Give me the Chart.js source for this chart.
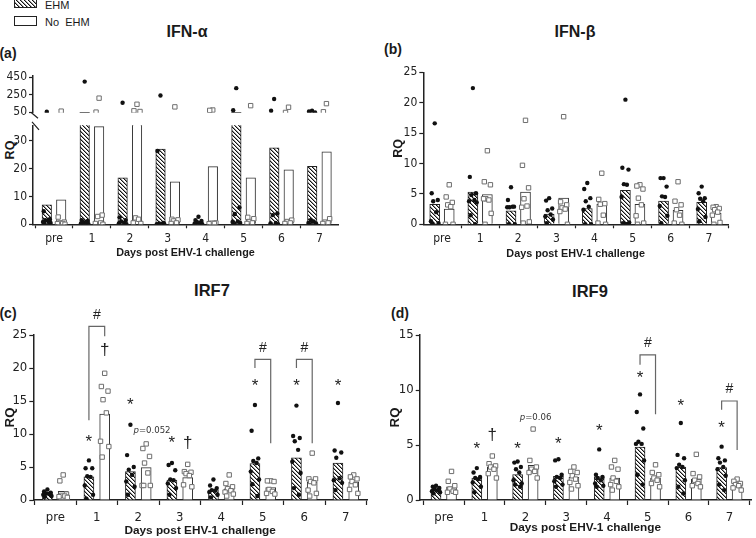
<!DOCTYPE html>
<html>
<head>
<meta charset="utf-8">
<script src="https://cdn.jsdelivr.net/npm/chart.js@4.4.1/dist/chart.umd.min.js"></script>
<style>
  html, body { margin: 0; padding: 0; background: #fff; overflow: hidden; }
  body { width: 756px; height: 538px; position: relative; font-family: 'Liberation Sans', Arial, sans-serif; color: #1a1a1a; }
  canvas { position: absolute; }
  .t { position: absolute; font-weight: bold; transform: translate(-50%, -50%); white-space: nowrap; }
  .leg { position: absolute; font-size: 11px; transform: translateY(-50%); white-space: nowrap; }
</style>
</head>
<body>
<canvas id="legEhm" width="23" height="10" style="left:14px;top:-2px"></canvas>
<div class="leg" style="left:45px;top:5px">EHM</div>
<canvas id="legNo" width="23" height="10" style="left:14px;top:16px"></canvas>
<div class="leg" style="left:45px;top:22px">No&nbsp; EHM</div>

<div class="t" style="left:187px;top:32px;font-size:16px">IFN-α</div>
<div class="t" style="left:575px;top:32px;font-size:16px">IFN-β</div>
<div class="t" style="left:212px;top:290px;font-size:16.5px">IRF7</div>
<div class="t" style="left:590px;top:291px;font-size:16.5px">IRF9</div>
<div class="t" style="left:8px;top:53px;font-size:14px">(a)</div>
<div class="t" style="left:393px;top:49px;font-size:14px">(b)</div>
<div class="t" style="left:8px;top:313px;font-size:14px">(c)</div>
<div class="t" style="left:400px;top:313px;font-size:14px">(d)</div>
<div class="t" style="left:10px;top:150px;font-size:12.5px;transform:translate(-50%,-50%) rotate(-90deg)">RQ</div>

<canvas id="aTop"></canvas>
<canvas id="aLow"></canvas>
<canvas id="bChart"></canvas>
<canvas id="cChart"></canvas>
<canvas id="dChart"></canvas>

<script>
const days = ['pre', '1', '2', '3', '4', '5', '6', '7'];

// IFN-alpha (broken axis)
const ifnaEhm = [7.0, 45, 16.7, 27.0, 0.6, 45, 27.4, 20.8];
const ifnaNo = [8.8, 35, 40, 15.2, 20.7, 16.7, 19.5, 26.0];
const ifnaEhmPts = [
  [54, 4.7, 1.8, 1.5, 1.2, 0.8, 0.5, 0.3, 0],
  [400, 1.5, 1.2, 0.8, 0.5, 0.3, 0, 0],
  [158, 2.5, 1.5, 1.0, 0.5, 0.3, 0],
  [240, 26.3, 0.5, 0.3, 0.2, 0, 0],
  [2.7, 1.5, 1.2, 0.8, 0.5, 0.3, 0],
  [325, 72, 6.0, 3.7, 1.0, 0.8, 0.5, 0],
  [200, 65, 3.9, 3.3, 0.5, 0.3, 0],
  [65, 57, 46, 1.5, 1.0, 0.5, 0.3, 0]
];
const ifnaNoPts = [
  [61, 2.6, 0.8, 0.5, 0.3, 0.2, 0],
  [210, 50, 3.3, 2.8, 0.5, 0.3, 0],
  [140, 65, 57, 2.3, 1.8, 0.5, 0.3],
  [110, 1.8, 1.6, 1.2, 0.5, 0.3],
  [74, 70, 0.5, 0.4, 0.3, 0.2],
  [124, 2.5, 2.0, 1.0, 0.5, 0.3],
  [106, 46, 1.5, 1.0, 0.5, 0.3],
  [147, 54, 2.0, 0.8, 0.5, 0.3]
];
const ifnaLowTicks = [0, 10, 20, 30];
const ifnaHighTicks = [50, 250, 450];

// IFN-beta
const ifnbEhm = [3.3, 5.3, 2.2, 1.7, 2.6, 5.6, 3.8, 3.6];
const ifnbNo = [2.5, 4.9, 5.3, 4.3, 3.3, 3.3, 2.3, 1.8];
const ifnbEhmPts = [
  [16.6, 5.1, 4.0, 3.8, 2.0, 0.5, 0.2, 0],
  [22.4, 7.8, 5.1, 4.8, 4.0, 3.8, 3.6, 1.5, 0],
  [6.1, 4.0, 2.9, 2.8, 2.9, 2.8, 0, 0],
  [4.3, 3.9, 2.6, 2.3, 1.6, 1.3, 0.8, 0.2],
  [6.8, 5.8, 4.3, 3.8, 2.9, 2.4, 0, 0],
  [20.5, 9.3, 9.0, 6.6, 6.5, 4.5, 0.3, 0.2, 0, 0],
  [7.6, 7.6, 6.2, 4.6, 4.5, 3.0, 1.4, 0.2],
  [6.2, 5.1, 4.3, 4.2, 3.8, 2.5, 1.2, 0.5]
];
const ifnbNoPts = [
  [6.5, 4.5, 3.6, 3.2, 2.9, 0, 0],
  [12.1, 7.0, 6.5, 4.2, 4.0, 4.2, 1.8, 0],
  [17.1, 9.7, 6.0, 4.2, 3.0, 2.8, 0.4, 0.2],
  [17.7, 3.7, 3.2, 2.7, 2.5, 2.1, 0],
  [8.4, 4.1, 3.4, 3.3, 1.5, 0.2, 0],
  [6.5, 6.3, 5.8, 4.3, 3.2, 1.4, 0.2, 0],
  [7.0, 3.8, 3.2, 2.4, 1.5, 0.2, 0],
  [2.9, 2.8, 2.6, 2.4, 2.0, 1.5, 0.3, 0]
];
const ifnbTicks = [0, 5, 10, 15, 20, 25];

// IRF7
const irf7Ehm = [1.15, 3.5, 4.3, 3.0, 1.55, 5.5, 6.4, 5.6];
const irf7No = [1.3, 13.0, 4.9, 3.4, 1.7, 1.9, 2.7, 2.7];
const irf7EhmPts = [
  [1.6, 1.3, 1.1, 1.0, 0.9, 0.8, 0.6, 0.5],
  [6.0, 4.8, 4.8, 3.6, 3.5, 2.2, 0.8, 0.2],
  [11.4, 6.8, 5.0, 4.6, 3.8, 2.8, 2.0, 0.8],
  [5.6, 5.3, 4.5, 3.1, 3.0, 2.5, 1.8, 0.8],
  [3.1, 2.2, 1.8, 1.5, 1.4, 1.2, 0.8, 0.4],
  [14.4, 10.5, 6.3, 5.9, 5.6, 4.3, 3.1, 2.4, 0.6],
  [14.3, 9.7, 9.4, 8.9, 7.6, 5.8, 4.1, 1.8, 0.8],
  [14.7, 7.5, 7.2, 6.4, 3.3, 3.0, 2.6, 1.5]
];
const irf7NoPts = [
  [3.8, 2.9, 0.9, 0.7, 0.6, 0.5, 0.4],
  [19.2, 17.2, 16.5, 15.2, 13.2, 8.9, 8.1, 6.5],
  [8.5, 7.8, 6.6, 5.6, 4.1, 2.2, 2.2, 2.2],
  [5.4, 4.3, 4.2, 4.0, 3.7, 2.3, 2.0],
  [3.8, 2.5, 2.0, 1.7, 1.4, 1.2, 0.9, 0.6],
  [2.9, 2.9, 2.8, 1.6, 1.3, 1.0, 0.9],
  [7.1, 3.2, 3.2, 2.8, 2.6, 1.5, 1.0, 0.6],
  [3.8, 3.5, 3.2, 2.8, 2.3, 1.6, 1.0]
];
const irf7Ticks = [0, 5, 10, 15, 20, 25];
const irf7Stars = [null, 9.3, 15.0, 9.2, null, 17.8, 17.8, 17.8];
const irf7Daggers = [null, 22.7, null, 8.6, null, null, null, null];
const irf7BrDays = [1, 5, 6];
const irf7BrTop = [26.3, 21.3, 21.3];
const irf7BrLeft = [12.1, 20.0, 20.0];
const irf7BrRight = [24.8, 8.6, 8.6];
const irf7Hash = [28.0, 23.0, 23.0];

// IRF9
const irf9Ehm = [0.97, 2.0, 2.3, 2.15, 2.1, 4.8, 3.0, 2.95];
const irf9No = [1.2, 3.0, 3.15, 2.05, 2.0, 2.0, 1.9, 1.35];
const irf9EhmPts = [
  [1.3, 1.2, 1.1, 1.0, 0.9, 0.8, 0.7, 0.6],
  [2.9, 2.5, 2.1, 2.0, 1.9, 1.6, 1.2, 0.7],
  [3.5, 3.4, 3.0, 2.8, 2.5, 1.8, 1.5, 1.4, 1.2],
  [3.7, 3.6, 2.3, 2.1, 2.0, 1.7, 1.4, 1.2],
  [4.6, 2.3, 2.1, 2.0, 1.8, 1.5, 1.3, 1.2],
  [9.6, 8.0, 6.5, 5.3, 5.1, 5.1, 3.6, 2.3, 1.4],
  [7.0, 4.1, 3.8, 3.2, 3.0, 2.9, 1.8, 1.2, 0.6],
  [4.85, 3.8, 3.6, 3.4, 3.0, 2.8, 2.2, 1.4, 0.9]
];
const irf9NoPts = [
  [2.6, 1.7, 1.3, 1.0, 0.8, 0.7, 0.7],
  [4.0, 3.3, 3.1, 3.0, 2.8, 2.4, 2.0],
  [6.45, 3.6, 3.0, 2.8, 2.6, 2.5, 2.0],
  [3.0, 2.6, 2.5, 2.2, 1.9, 1.6, 1.3, 1.0],
  [3.6, 3.0, 2.8, 2.0, 1.7, 1.4, 1.2, 0.9],
  [3.2, 2.5, 2.3, 2.0, 1.8, 1.5, 1.2],
  [4.15, 2.4, 2.1, 1.8, 1.5, 1.3, 1.2],
  [1.9, 1.7, 1.5, 1.4, 1.3, 1.1, 0.9]
];
const irf9Ticks = [0, 5, 10, 15];
const irf9Stars = [null, 5.0, 5.0, 5.45, 6.65, 11.45, 8.9, 6.9];
const irf9Daggers = [null, 5.85, null, null, null, null, null, null];
const irf9BrDays = [5, 7];
const irf9BrTop = [13.2, 9.0];
const irf9BrLeft = [12.3, 8.2];
const irf9BrRight = [7.8, 4.55];
const irf9Hash = [14.3, 10.05];

const OFF = 0.19;                       // half distance between the two bars of a day
const JIT = [0, -0.08, 0.08, -0.04, 0.04, -0.1, 0.1, -0.06, 0.06, 0.02];
const NARROW = "'Liberation Sans Narrow', 'DejaVu Sans Condensed', Arial, sans-serif";
const SANS = "'Liberation Sans', Arial, sans-serif";

// hatch tile for the EHM bars
const tile = document.createElement('canvas');
tile.width = tile.height = 4;
(function () {
  const t = tile.getContext('2d');
  t.fillStyle = '#fff'; t.fillRect(0, 0, 4, 4);
  for (let i = 0; i < 4; i++) {
    t.fillStyle = '#111'; t.fillRect(i, i, 1, 1);
    t.fillStyle = '#999'; t.fillRect((i + 1) % 4, i, 1, 1);
  }
})();

function legendBox(id, hatched) {
  const ctx = document.getElementById(id).getContext('2d');
  ctx.fillStyle = hatched ? ctx.createPattern(tile, 'repeat') : '#fff';
  ctx.fillRect(0.5, 0.5, 22, 9);
  ctx.strokeStyle = '#222'; ctx.lineWidth = 1;
  ctx.strokeRect(0.5, 0.5, 22, 9);
}
legendBox('legEhm', true);
legendBox('legNo', false);

function bars(vals, side) {
  return vals.map((v, i) => ({ x: i + side, y: v }));
}
function pts(groups, side, keep) {
  const out = [];
  groups.forEach((vals, i) => {
    vals.forEach((v, j) => { if (keep(v)) out.push({ x: i + side + JIT[j % JIT.length], y: v }); });
  });
  return out;
}

function marks(m) {
  return {
    id: 'marks',
    afterDatasetsDraw(chart) {
      const ctx = chart.ctx, xs = chart.scales.x, ys = chart.scales.y;
      const px = v => xs.getPixelForValue(v), py = v => ys.getPixelForValue(v);
      ctx.save();
      ctx.fillStyle = '#222'; ctx.strokeStyle = '#666'; ctx.lineWidth = 1.2;
      ctx.textAlign = 'center'; ctx.textBaseline = 'middle';
      ctx.font = '17px ' + SANS;
      m.stars.forEach((v, i) => { if (v != null) ctx.fillText('*', px(i - OFF), py(v) + 4); });
      m.daggers.forEach((v, i) => { if (v != null) ctx.fillText('†', px(i + OFF), py(v)); });
      ctx.font = '14px ' + SANS;
      m.brDays.forEach((d, k) => {
        const x1 = px(d - OFF), x2 = px(d + OFF), yt = py(m.brTop[k]);
        ctx.beginPath();
        ctx.moveTo(x1, py(m.brLeft[k])); ctx.lineTo(x1, yt);
        ctx.lineTo(x2, yt); ctx.lineTo(x2, py(m.brRight[k]));
        ctx.stroke();
        ctx.fillText('#', (x1 + x2) / 2, py(m.hash[k]));
      });
      // p value note
      ctx.textAlign = 'left'; ctx.fillStyle = '#333';
      const cx = px(m.pDay + m.pDx), cy = py(m.pY);
      ctx.font = 'italic 9.5px ' + NARROW;
      const w1 = ctx.measureText('p').width;
      const rest = '=' + m.pText;
      ctx.font = '9.5px ' + NARROW;
      const w2 = ctx.measureText(rest).width;
      const x0 = cx - (w1 + w2) / 2;
      ctx.font = 'italic 9.5px ' + NARROW;
      ctx.fillText('p', x0, cy);
      ctx.font = '9.5px ' + NARROW;
      ctx.fillText(rest, x0 + w1, cy);
      ctx.restore();
    }
  };
}

// the two slashes of the broken IFN-alpha axis
const breakMarks = {
  id: 'breakMarks',
  afterDraw(chart) {
    const ctx = chart.ctx, l = chart.chartArea.left, t = chart.chartArea.top;
    ctx.save();
    ctx.strokeStyle = '#222'; ctx.lineWidth = 1.2;
    ctx.beginPath();
    ctx.moveTo(l - 1.5, t - 12.5); ctx.lineTo(l + 5, t - 7);
    ctx.moveTo(l - 1, t - 3.5); ctx.lineTo(l + 6, t + 4.5);
    ctx.stroke();
    ctx.restore();
  }
};

function build(id, g, o) {
  const cv = document.getElementById(id);
  const L = Math.round(g.l - g.yw), T = Math.round(g.t - g.pt);
  const W = Math.ceil(g.r - L + g.pr), H = Math.round(g.b + (g.xh || 0) + (g.pb || 0) - T);
  cv.width = W; cv.height = H;
  cv.style.left = L + 'px'; cv.style.top = T + 'px';
  const yw = g.l - L, pt = g.t - T, pr = W - (g.r - L);
  const pb = g.pb || 0, xh = H - pb - (g.b - T);
  const ctx = cv.getContext('2d');
  const pattern = ctx.createPattern(tile, 'repeat');

  const datasets = [
    { type: 'scatter', data: pts(o.ehmPts, -OFF, o.keep), pointRadius: 2.2, pointBackgroundColor: '#111',
      pointBorderWidth: 0, order: 1 },
    { type: 'scatter', data: pts(o.noPts, OFF, o.keep), pointStyle: 'rect', pointRadius: 3.1,
      pointBackgroundColor: '#fff', pointBorderColor: '#6e6e6e', pointBorderWidth: 1, order: 1 }
  ];
  if (o.dashes) {
    datasets.push({ type: 'scatter', data: o.dashes, pointStyle: 'line', pointRadius: 5,
      pointBorderColor: '#444', pointBorderWidth: 1.2, order: 1 });
  }
  if (o.ehm) {
    datasets.push(
      { type: 'bar', data: bars(o.ehm, -OFF), backgroundColor: pattern, borderColor: '#222', borderWidth: 1,
        barThickness: o.bw, grouped: false, order: 2 },
      { type: 'bar', data: bars(o.no, OFF), backgroundColor: '#fff', borderColor: '#333', borderWidth: 1,
        barThickness: o.bw, grouped: false, order: 2 }
    );
  }

  const tickFont = { family: NARROW, size: o.tickSize };
  const axisLine = { display: true, color: '#222', width: 1.5 };
  new Chart(ctx, {
    type: 'bar',
    data: { datasets },
    options: {
      responsive: false,
      animation: false,
      events: [],
      layout: { padding: { left: 0, top: pt, right: pr, bottom: pb } },
      plugins: { legend: { display: false }, tooltip: { enabled: false }, title: { display: false } },
      scales: {
        x: {
          type: 'linear', min: o.xmin, max: o.xmax, offset: false, display: o.xAxis !== false,
          border: axisLine,
          grid: { drawOnChartArea: false, drawTicks: true, tickLength: o.tl, color: '#222', tickWidth: 1.2 },
          ticks: { font: tickFont, color: '#222', padding: o.xpad, maxRotation: 0, autoSkip: false,
                   callback: v => days[v] },
          afterBuildTicks: s => { s.ticks = days.map((d, i) => ({ value: i })); },
          afterFit: s => { s.height = xh; },
          title: o.xTitle ? { display: true, text: 'Days post EHV-1 challenge', color: '#1a1a1a',
                   font: { family: SANS, size: o.titleSize, weight: 'bold' }, padding: { top: 0, bottom: 2 } } : { display: false }
        },
        y: {
          min: o.ymin, max: o.ymax,
          border: axisLine,
          grid: { drawOnChartArea: false, drawTicks: true, tickLength: 4, color: '#222', tickWidth: 1.2 },
          ticks: { font: tickFont, color: '#222', padding: 2 },
          afterBuildTicks: s => { s.ticks = o.yTicks.map(v => ({ value: v })); },
          afterFit: s => { s.width = yw; },
          title: o.yTitle ? { display: true, text: 'RQ', color: '#1a1a1a',
                   font: { family: SANS, size: o.yTitleSize, weight: 'bold' }, padding: { top: 2, bottom: 0 } } : { display: false }
        }
      }
    },
    plugins: o.plugins || []
  });
}

// panel (a): upper segment of the broken axis
const LOW_MAX = 35.5, HIGH_MIN = 42;
build('aTop', { l: 33, r: 338, t: 75.5, b: 114, yw: 33, pt: 10, pr: 6, pb: 8 }, {
  ehmPts: ifnaEhmPts, noPts: ifnaNoPts, keep: v => v >= HIGH_MIN,
  dashes: ifnaEhm.map((v, i) => ({ x: i - OFF, y: v })).filter(p => p.y >= HIGH_MIN),
  xmin: -0.554, xmax: 7.49, ymin: HIGH_MIN, ymax: 470, yTicks: ifnaHighTicks,
  xAxis: false, tickSize: 12, tl: 4, xpad: 3
});
// panel (a): lower segment
build('aLow', { l: 33, r: 338, t: 125.3, b: 224.3, yw: 33, pt: 14, pr: 6, xh: 37.2 }, {
  ehm: ifnaEhm, no: ifnaNo, ehmPts: ifnaEhmPts, noPts: ifnaNoPts, keep: v => v <= LOW_MAX, bw: 9.5,
  xmin: -0.554, xmax: 7.49, ymin: 0, ymax: LOW_MAX, yTicks: ifnaLowTicks,
  xTitle: true, titleSize: 10.8, tickSize: 12, tl: 4, xpad: 3.5, plugins: [breakMarks]
});
// panel (b)
build('bChart', { l: 423.3, r: 728, t: 72.3, b: 224.3, yw: 34.8, pt: 10, pr: 8, xh: 38.2 }, {
  ehm: ifnbEhm, no: ifnbNo, ehmPts: ifnbEhmPts, noPts: ifnbNoPts, keep: () => true, bw: 10,
  xmin: -0.49, xmax: 7.50, ymin: 0, ymax: 25, yTicks: ifnbTicks,
  xTitle: true, titleSize: 10.8, yTitle: true, yTitleSize: 12.5, tickSize: 12, tl: 4, xpad: 3.5
});
// panel (c)
build('cChart', { l: 33.3, r: 367, t: 335, b: 500, yw: 33.3, pt: 32, pr: 8, xh: 40.1 }, {
  ehm: irf7Ehm, no: irf7No, ehmPts: irf7EhmPts, noPts: irf7NoPts, keep: () => true, bw: 10,
  xmin: -0.53, xmax: 7.51, ymin: 0, ymax: 25, yTicks: irf7Ticks,
  xTitle: true, titleSize: 11.8, yTitle: true, yTitleSize: 13.3, tickSize: 13, tl: 5, xpad: 5,
  plugins: [marks({ stars: irf7Stars, daggers: irf7Daggers, brDays: irf7BrDays, brTop: irf7BrTop,
    brLeft: irf7BrLeft, brRight: irf7BrRight, hash: irf7Hash, pDay: 2, pDx: 0.33, pY: 10.6, pText: '0.052' })]
});
// panel (d)
build('dChart', { l: 419.7, r: 756, t: 335, b: 500, yw: 34.7, pt: 10, pr: 0, xh: 37.1 }, {
  ehm: irf9Ehm, no: irf9No, ehmPts: irf9EhmPts, noPts: irf9NoPts, keep: () => true, bw: 10,
  xmin: -0.59, xmax: 7.53, ymin: 0, ymax: 15, yTicks: irf9Ticks,
  xTitle: true, titleSize: 11.8, yTitle: true, yTitleSize: 13.3, tickSize: 13, tl: 5, xpad: 5,
  plugins: [marks({ stars: irf9Stars, daggers: irf9Daggers, brDays: irf9BrDays, brTop: irf9BrTop,
    brLeft: irf9BrLeft, brRight: irf9BrRight, hash: irf9Hash, pDay: 2, pDx: 0.25, pY: 7.5, pText: '0.06' })]
});
</script>
</body>
</html>
